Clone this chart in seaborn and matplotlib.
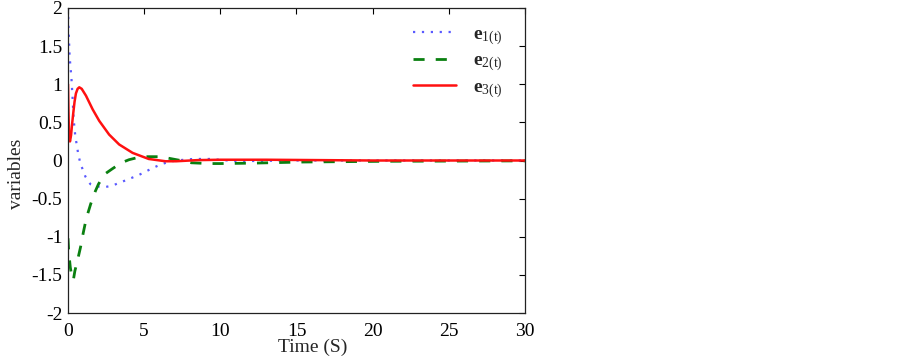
import numpy as np
import pandas as pd
import seaborn as sns
import matplotlib
matplotlib.use("Agg")
import matplotlib.pyplot as plt

sns.set_style("white")
plt.rcParams['font.family'] = ['Liberation Serif', 'DejaVu Serif']
plt.rcParams['mathtext.fontset'] = 'custom'
plt.rcParams['mathtext.rm'] = 'Liberation Serif'
plt.rcParams['mathtext.bf'] = 'Liberation Serif:bold'
plt.rcParams['mathtext.it'] = 'Liberation Serif:italic'

# e1(t)
t1 = [0.0, 0.04, 0.1, 0.15, 0.22, 0.3, 0.37, 0.48, 0.66, 0.8, 0.97, 1.14, 1.47, 1.9, 2.4,
      2.9, 3.66, 4.65, 5.5, 6.1, 6.6, 7.1, 7.65, 8.2, 9.3, 10.5, 11.1, 12.5, 15.0, 20.0, 30.0]
e1 = [2.0, 1.7, 1.4, 1.25, 1.1, 0.82, 0.54, 0.32, 0.1, -0.03, -0.12, -0.21, -0.31, -0.34, -0.35,
      -0.33, -0.27, -0.19, -0.105, -0.05, -0.02, 0.0, 0.01, 0.02, 0.02, 0.0, -0.01, -0.005, 0.0, 0.0, 0.0]

# e2(t)
t2 = [0.0, 0.05, 0.15, 0.25, 0.35, 0.45, 0.67, 0.83, 1.0, 1.2, 1.49, 1.8, 2.0, 2.4, 2.9, 3.5, 4.0,
      4.5, 5.1, 6.0, 6.6, 7.4, 8.1, 9.2, 10.0, 12.0, 15.4, 21.0, 30.0]
e2 = [-1.02, -1.2, -1.4, -1.52, -1.57, -1.45, -1.27, -1.13, -0.95, -0.76, -0.57, -0.40, -0.31, -0.18,
      -0.11, -0.03, 0.01, 0.035, 0.05, 0.05, 0.03, 0.0, -0.03, -0.04, -0.04, -0.035, -0.02, -0.01, -0.005]

# e3(t)
t3 = [0.0, 0.03, 0.07, 0.13, 0.2, 0.27, 0.35, 0.43, 0.52, 0.63, 0.74, 0.9, 1.18, 1.62, 2.05,
      2.7, 3.36, 4.24, 5.3, 6.4, 7.1, 8.5, 10.0, 13.0, 20.0, 30.0]
e3 = [1.0, 0.65, 0.33, 0.25, 0.33, 0.48, 0.63, 0.77, 0.88, 0.94, 0.96, 0.94, 0.85, 0.67, 0.52,
      0.34, 0.21, 0.10, 0.02, -0.01, -0.01, 0.005, 0.01, 0.01, 0.0, 0.0]

labels = [r'$\mathbf{e}_{\mathrm{1(t)}}$', r'$\mathbf{e}_{\mathrm{2(t)}}$', r'$\mathbf{e}_{\mathrm{3(t)}}$']

fig = plt.figure(figsize=(9.03, 3.61), dpi=100)
ax = fig.add_axes([68/903, 1-313/361, (525-68)/903, (313-8)/361])

sns.lineplot(x=t1, y=e1, ax=ax, color='#5a5aff', lw=1.6, sort=False, label=labels[0])
sns.lineplot(x=t2, y=e2, ax=ax, color='#0a8010', lw=2.0, sort=False, label=labels[1])
sns.lineplot(x=t3, y=e3, ax=ax, color='#ff1010', lw=1.8, sort=False, label=labels[2])
ax.lines[0].set_linestyle((0, (1, 3)))
ax.lines[1].set_linestyle((0, (4, 4)))

ax.set_xlim(0, 30)
ax.set_ylim(-2, 2)
ax.set_xticks([0, 5, 10, 15, 20, 25, 30])
ax.set_yticks([-2, -1.5, -1, -0.5, 0, 0.5, 1, 1.5, 2])
ax.set_yticklabels(['-2', '-1.5', '-1', '-0.5', '0', '0.5', '1', '1.5', '2'])
ax.tick_params(direction='in', top=True, right=True, length=4, width=0.8, labelsize=14, colors='black')
ax.tick_params(axis='x', pad=7)
ax.tick_params(axis='y', pad=4)
for s in ax.spines.values():
    s.set_color('#222222')
    s.set_linewidth(0.9)
ax.set_xlabel('Time (S)', fontsize=14)
ax.set_ylabel('variables', fontsize=14)
ax.xaxis.set_label_coords(0.535, -0.085)
ax.yaxis.set_label_coords(-0.094, 0.457)

leg = ax.legend(loc='upper right', frameon=False, fontsize=14, handlelength=2.2,
                bbox_to_anchor=(0.99, 1.0), labelspacing=0.25, handletextpad=0.9)

fig.savefig('out.png', dpi=100, facecolor='white')
